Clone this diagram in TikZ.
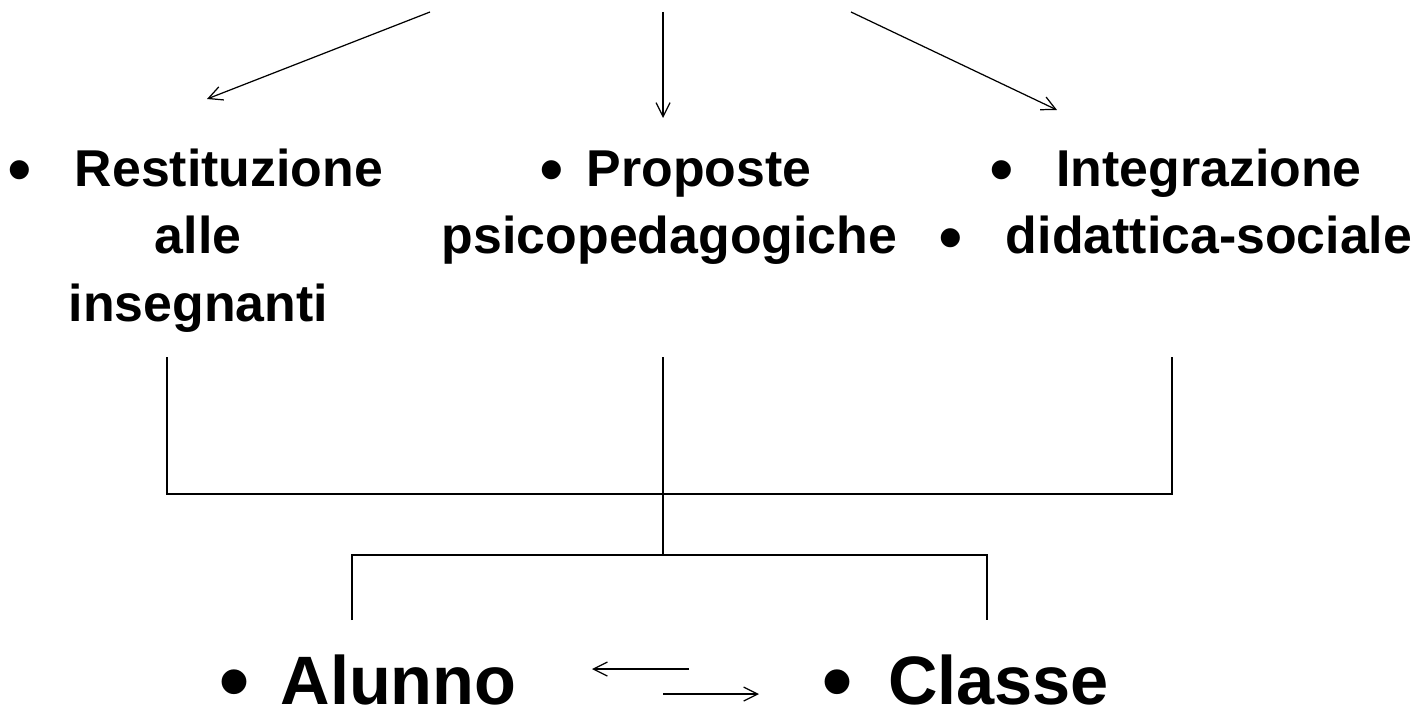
\documentclass[tikz,border=0pt]{standalone}
\usepackage{fontspec}
\setmainfont{Liberation Sans}
\usetikzlibrary{arrows.meta}
\begin{document}
\begin{tikzpicture}[
		x=0.02cm, y=-0.02cm,
		line width=0.7pt,
		txt/.style={font=\fontsize{29.5}{35}\selectfont\bfseries, inner sep=0pt, anchor=base},
		bigtxt/.style={font=\fontsize{39}{46}\selectfont\bfseries, inner sep=0pt, anchor=base},
		dot/.style={font=\fontsize{40}{46}\selectfont, inner sep=0pt, anchor=base},
		bigdot/.style={font=\fontsize{52}{60}\selectfont, inner sep=0pt, anchor=base},
		arr/.style={-{Straight Barb[length=0.28cm,width=0.28cm]}}
	]
	\useasboundingbox (0,0) rectangle (1419,716);
	\node[dot] (b1) at (20,194) {•};
	\node[txt] (rest) at (229,187) {Restituzione};
	\node[txt] (alle) at (198,254) {alle};
	\node[txt] (inse) at (198.5,321) {insegnanti};
	\node[dot] (b2) at (552,194) {•};
	\node[txt] (prop) at (699,187) {Proposte};
	\node[txt] (psico) at (669.5,254) {psicopedagogiche};
	\node[dot] (b3) at (1002,194) {•};
	\node[txt] (integ) at (1209,187) {Integrazione};
	\node[dot] (b4) at (951,261) {•};
	\node[txt] (didat) at (1209,254) {didattica-sociale};
	\node[bigdot] (b5) at (234,712) {•};
	\node[bigtxt] (alunno) at (398.5,704) {Alunno};
	\node[bigdot] (b6) at (837,712) {•};
	\node[bigtxt] (classe) at (998.5,704) {Classe};
	\coordinate (s1) at (430,12);
	\coordinate (s2) at (663,12);
	\coordinate (s3) at (851,12);
	\coordinate (e1) at (207,99);
	\coordinate (e2) at (663,118);
	\coordinate (e3) at (1057,110);
	\draw[arr] (s1) -- (e1);
	\draw[arr] (s2) -- (e2);
	\draw[arr] (s3) -- (e3);
	\coordinate (l1) at (167,357);
	\coordinate (l2) at (663,357);
	\coordinate (l3) at (1172,357);
	\coordinate (join) at (663,555);
	\coordinate (d1) at (352,620);
	\coordinate (d2) at (987,620);
	\draw (l1) |- (1172,494) -- (l3);
	\draw (l2) -- (join);
	\draw (d1) |- (join) -| (d2);
	\coordinate (a1) at (689,669);
	\coordinate (a2) at (592,669);
	\coordinate (a3) at (663,694);
	\coordinate (a4) at (759,694);
	\draw[arr] (a1) -- (a2);
	\draw[arr] (a3) -- (a4);
\end{tikzpicture}
\end{document}
